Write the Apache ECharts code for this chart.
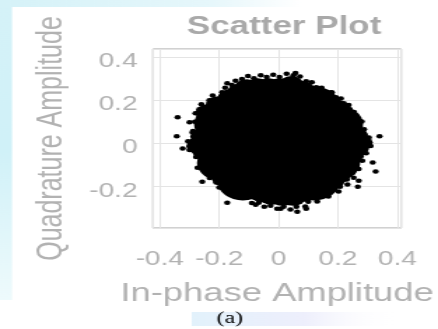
<!DOCTYPE html>
<html>
<head>
<meta charset="utf-8">
<script src="https://cdn.jsdelivr.net/npm/echarts@6/dist/echarts.min.js"></script>
<style>
  html, body { margin: 0; padding: 0; background: #ffffff; overflow: hidden; }
  /* the figure is drawn narrow and widened, giving the stretched look of the exported plot */
  #chart { width: 313px; height: 329px; transform: scaleX(1.3994); transform-origin: 0 0; }
</style>
</head>
<body>
<div id="chart"></div>
<script>
// Axis ticks
const xTickValues = [-0.4, -0.2, 0, 0.2, 0.4];
const xTickLabels = ['-0.4', '-0.2', '0', '0.2', '0.4'];
const yTickValues = [-0.2, 0, 0.2, 0.4];
const yTickLabels = ['-0.2', '0', '0.2', '0.4'];

// Received symbols (I, Q). The dense centre of the cloud is solid black,
// so it is carried by a few broad markers; the rim and stray samples use small ones.
const coreSamples = [
  [-0.12, 0.18], [-0.04, 0.19], [0.04, 0.19], [0.12, 0.18],
  [-0.2, 0.09], [-0.12, 0.1], [-0.04, 0.09], [0.04, 0.1], [0.12, 0.09], [0.2, 0.09],
  [-0.21, 0.0], [-0.12, 0.01], [-0.04, 0.0], [0.04, 0.01], [0.12, 0.0], [0.21, 0.0],
  [-0.19, -0.09], [-0.12, -0.1], [-0.04, -0.09], [0.04, -0.1], [0.12, -0.09], [0.19, -0.09],
  [-0.12, -0.18], [-0.04, -0.19], [0.04, -0.19], [0.12, -0.18]
];
const innerRing = [
  [-0.107, 0.256], [-0.07, 0.26], [-0.033, 0.26], [0.003, 0.26], [0.043, 0.27], [0.08, 0.247],
  [0.107, 0.223], [0.137, 0.205], [0.167, 0.186], [0.19, 0.163], [0.21, 0.14], [0.223, 0.107],
  [0.24, 0.07], [0.257, 0.037], [0.273, 0.005], [0.26, -0.023], [0.243, -0.051], [0.23, -0.084],
  [0.22, -0.116], [0.2, -0.144], [0.18, -0.172], [0.15, -0.191], [0.12, -0.209], [0.087, -0.228],
  [0.05, -0.247], [0.013, -0.247], [-0.023, -0.242], [-0.057, -0.228], [-0.09, -0.209],
  [-0.123, -0.191], [-0.15, -0.172], [-0.183, -0.158], [-0.203, -0.112], [-0.223, -0.065],
  [-0.247, -0.037], [-0.267, -0.009], [-0.253, 0.028], [-0.233, 0.07], [-0.233, 0.107],
  [-0.237, 0.14], [-0.203, 0.177], [-0.163, 0.209], [-0.133, 0.233]
];
const edgeSamples = [
  [-0.123, 0.298], [-0.083, 0.302], [-0.04, 0.307], [0.003, 0.307], [0.05, 0.316], [0.093, 0.288],
  [0.127, 0.26], [0.16, 0.237], [0.193, 0.214], [0.22, 0.186], [0.24, 0.158], [0.257, 0.121],
  [0.273, 0.079], [0.29, 0.042], [0.307, 0.005], [0.293, -0.028], [0.277, -0.06], [0.263, -0.098],
  [0.25, -0.135], [0.23, -0.167], [0.207, -0.2], [0.173, -0.223], [0.14, -0.247], [0.1, -0.27],
  [0.06, -0.293], [0.017, -0.293], [-0.027, -0.288], [-0.067, -0.274], [-0.107, -0.251],
  [-0.143, -0.228], [-0.177, -0.205], [-0.21, -0.181], [-0.233, -0.13], [-0.257, -0.074],
  [-0.28, -0.042], [-0.3, -0.014], [-0.287, 0.033], [-0.267, 0.079], [-0.267, 0.121],
  [-0.267, 0.158], [-0.233, 0.2], [-0.19, 0.237], [-0.157, 0.27]
];
const rimSamples = [
  [-0.103, 0.312], [-0.06, 0.316], [-0.018, 0.318], [0.027, 0.322], [0.072, 0.31], [0.112, 0.283],
  [0.145, 0.258], [0.18, 0.236], [0.21, 0.208], [0.236, 0.178], [0.254, 0.146], [0.272, 0.105],
  [0.288, 0.066], [0.304, 0.028], [0.31, -0.012], [0.295, -0.045], [0.282, -0.08], [0.27, -0.118],
  [0.253, -0.158], [0.232, -0.19], [0.202, -0.222], [0.168, -0.245], [0.13, -0.268], [0.09, -0.292],
  [0.04, -0.305], [-0.005, -0.302], [-0.048, -0.293], [-0.09, -0.275], [-0.128, -0.25],
  [-0.163, -0.228], [-0.2, -0.204], [-0.232, -0.16], [-0.255, -0.106], [-0.278, -0.063],
  [-0.3, -0.03], [-0.305, 0.01], [-0.288, 0.058], [-0.282, 0.1], [-0.28, 0.14], [-0.26, 0.182],
  [-0.222, 0.222], [-0.18, 0.258], [-0.145, 0.29]
];
const outlierSamples = [
  [-0.173, 0.279], [-0.34, 0.121], [-0.3, 0.098], [-0.343, 0.033], [-0.29, 0.051],
  [-0.323, -0.023], [-0.273, -0.112], [-0.257, -0.177], [-0.173, -0.274], [-0.123, -0.251],
  [-0.077, -0.284], [0.063, -0.316], [0.093, -0.302], [0.007, -0.302], [0.27, -0.172],
  [0.267, -0.2], [0.317, -0.088], [0.327, -0.13], [0.28, 0.102], [0.34, 0.033],
  [0.177, 0.237], [0.057, 0.326]
];

const sans = '"Liberation Sans", Arial, sans-serif';
const labelGray = '#b2b2b2';

function pointSeries(data, size) {
  return {
    type: 'scatter',
    data: data,
    symbol: 'circle',
    symbolSize: size,
    itemStyle: { color: '#000000', opacity: 1 },
    silent: true,
    animation: false
  };
}

const chart = echarts.init(document.getElementById('chart'), null, { renderer: 'canvas' });
chart.setOption({
  backgroundColor: '#ffffff',
  animation: false,
  title: {
    text: 'Scatter Plot',
    left: 198,
    top: 10,
    textAlign: 'center',
    textStyle: { fontFamily: sans, fontSize: 25, fontWeight: 'bold', color: '#a9a9a9' }
  },
  grid: {
    left: 109.3, right: 24.4, top: 49, bottom: 101,
    show: true, borderColor: '#a3a3a3', borderWidth: 1, backgroundColor: '#ffffff'
  },
  xAxis: {
    type: 'value',
    min: -0.423, max: 0.413,
    axisLine: { show: false },
    axisTick: { show: false },
    splitLine: { show: true, lineStyle: { color: '#e4e4e4', width: 1 } },
    axisLabel: {
      customValues: xTickValues,
      formatter: v => { const i = xTickValues.findIndex(t => Math.abs(t - v) < 1e-6); return i < 0 ? '' : xTickLabels[i]; },
      color: labelGray, fontFamily: sans, fontSize: 20, margin: 21
    },
    name: 'In-phase Amplitude',
    nameLocation: 'middle',
    nameGap: 53,
    nameTextStyle: { fontFamily: sans, fontSize: 26, color: labelGray }
  },
  yAxis: {
    type: 'value',
    min: -0.391, max: 0.437,
    axisLine: { show: false },
    axisTick: { show: false },
    splitLine: { show: true, lineStyle: { color: '#e4e4e4', width: 1 } },
    axisLabel: {
      customValues: yTickValues,
      formatter: v => { const i = yTickValues.findIndex(t => Math.abs(t - v) < 1e-6); return i < 0 ? '' : yTickLabels[i]; },
      color: labelGray, fontFamily: sans, fontSize: 20, margin: 11,
      verticalAlign: 'top', lineHeight: 9
    },
    name: 'Quadrature Amplitude',
    nameLocation: 'middle',
    nameGap: 60,
    nameTextStyle: { fontFamily: sans, fontSize: 25, color: labelGray }
  },
  graphic: [
    { type: 'rect', z: -10, silent: true, shape: { x: 0, y: 0, width: 8.6, height: 300 },
      style: { fill: new echarts.graphic.LinearGradient(0, 0, 0, 1, [
        { offset: 0, color: '#d5f2f8' }, { offset: 0.5, color: '#d0f1f8' }, { offset: 1, color: '#eefafc' }]) } },
    { type: 'rect', z: -10, silent: true, shape: { x: 0, y: 0, width: 215, height: 7 },
      style: { fill: new echarts.graphic.LinearGradient(0, 0, 1, 0, [
        { offset: 0, color: '#d5f2f8' }, { offset: 0.7, color: '#e6f7fb' }, { offset: 1, color: '#ffffff' }]) } },
    { type: 'rect', z: -5, silent: true, shape: { x: 137, y: 312, width: 147, height: 14 },
      style: { fill: new echarts.graphic.LinearGradient(0, 0, 1, 0, [
        { offset: 0, color: 'rgba(214,236,250,0.7)' }, { offset: 0.55, color: 'rgba(226,228,250,0.6)' },
        { offset: 1, color: 'rgba(255,255,255,0)' }]) } },
    { type: 'text', z: 10, silent: true, x: 164.3, y: 319,
      style: { text: '(a)', fontFamily: '"Liberation Serif", "Times New Roman", serif', fontSize: 17,
        fontWeight: 'normal', fill: '#000000', align: 'center', verticalAlign: 'middle' } }
  ],
  series: [
    pointSeries(coreSamples, 36),
    pointSeries(innerRing, 18),
    pointSeries(edgeSamples, 4.5),
    pointSeries(rimSamples, 4.5),
    pointSeries(outlierSamples, 4.5)
  ]
});
</script>
</body>
</html>
